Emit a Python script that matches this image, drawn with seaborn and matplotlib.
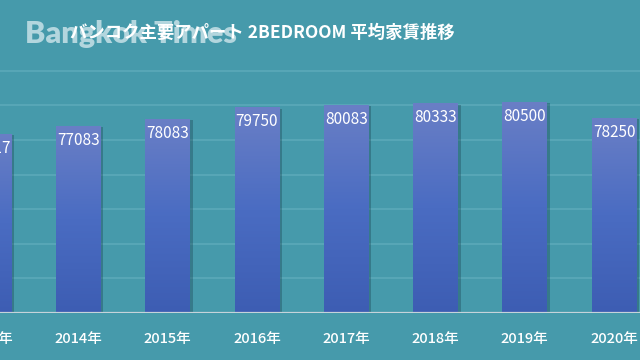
import numpy as np
import pandas as pd
import seaborn as sns
import matplotlib
matplotlib.use("Agg")
import matplotlib.pyplot as plt
import matplotlib.patheffects as pe
from matplotlib.colors import LinearSegmentedColormap

# data (first and last bars are cut at the edges)
years = ["2013年", "2014年", "2015年", "2016年", "2017年", "2018年", "2019年", "2020年"]
rent = [75917, 77083, 78083, 79750, 80083, 80333, 80500, 78250]

df = pd.DataFrame({"year": years, "rent": rent})

sns.set_theme(style="white")
plt.rcParams['font.family'] = ['Noto Sans CJK JP', 'DejaVu Sans']

bg = "#469aab"
fig = plt.figure(figsize=(6.4, 3.6), dpi=100, facecolor=bg)
ax = fig.add_axes([0, 47 / 360, 1, 256 / 360])
ax.set_facecolor(bg)

sns.barplot(data=df, x="year", y="rent", color="#5068b8", width=0.5, ax=ax,
            linewidth=0, edgecolor="none", zorder=3)

ax.set_ylim(50000, 87000)
ax.set_xlim(0.123, 7.29)
ax.set_yticks(np.arange(50000, 86000, 5000))
ax.yaxis.grid(True, color="#5ba9b9", linewidth=1.2, zorder=0)
ax.set_axisbelow(True)
for s in ax.spines.values():
    s.set_visible(False)
ax.axhline(50000, color="#c6d3da", linewidth=1.6, zorder=5)

# gradient fill + shadow on each bar
cmap = LinearSegmentedColormap.from_list("bar", ["#3d5db3", "#4a6cc2", "#6a7fc6"])
grad = np.linspace(0, 1, 256).reshape(-1, 1)
for p, v in zip(ax.patches, rent):
    x0, w, h = p.get_x(), p.get_width(), p.get_height()
    p.set_path_effects([pe.SimplePatchShadow(offset=(2, -1), shadow_rgbFace="#1f4c5a", alpha=0.4), pe.Normal()])
    im = ax.imshow(grad, extent=(x0, x0 + w, 50000, v), origin="lower", cmap=cmap,
                   aspect="auto", zorder=4)
    im.set_clip_path(p)
    ax.text(x0 + w / 2, v - 900, str(v), ha="center", va="top", color="white",
            fontsize=11, zorder=6)

ax.set_xlabel("")
ax.set_ylabel("")
ax.set_yticklabels([])
ax.tick_params(axis="y", length=0)
ax.set_xticks([])
# year labels drawn as text so the cut-off first one still shows
for i, lab in enumerate(years):
    ax.text(i, -0.1, lab, transform=ax.get_xaxis_transform(), ha="center", va="center",
            color="white", fontsize=10.5, fontweight="medium", clip_on=False)

# watermark and title
fig.text(0.039, 0.905, "Bangkok Times", fontsize=22, fontweight="heavy", family="Lato",
         color="#b3d6de", va="center", ha="left")
fig.text(0.41, 0.908, "バンコク主要アパート 2BEDROOM 平均家賃推移", fontsize=12.5, fontweight="bold",
         color="white", va="center", ha="center")

fig.savefig("out.png", dpi=100, facecolor=bg)
